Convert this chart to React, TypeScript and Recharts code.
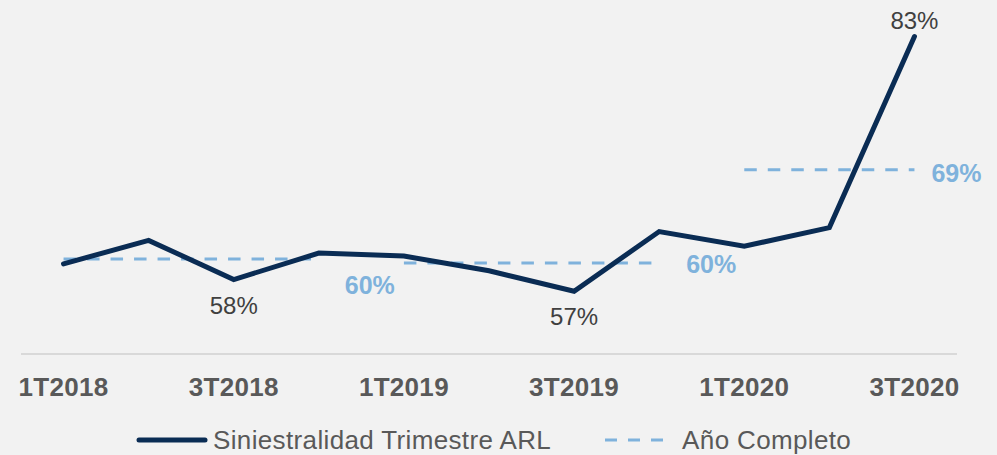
import React from 'react';
import { LineChart, Line, XAxis, YAxis, Legend, LabelList } from 'recharts';

const quarters = ['1T2018', '2T2018', '3T2018', '4T2018', '1T2019', '2T2019', '3T2019', '4T2019', '1T2020', '2T2020', '3T2020'];
const siniestralidad = [59.8, 62.2, 58.2, 60.9, 60.6, 59.1, 57.0, 63.1, 61.6, 63.5, 83.0];
const quarterLabels = ['', '', '58%', '', '', '', '57%', '', '', '', '83%'];
const anio2018 = [60.3, 60.3, 60.3, 60.3, null, null, null, null, null, null, null];
const anio2019 = [null, null, null, null, 59.9, 59.9, 59.9, 59.9, null, null, null];
const anio2020 = [null, null, null, null, null, null, null, null, 69.4, 69.4, 69.4];
const annualLabels = ['60%', '60%', '69%'];
const seriesNames = ['Siniestralidad Trimestre ARL', 'Año Completo'];

const NAVY = '#0a2c54';
const LIGHT = '#7fb2dc';
const FONT = '"Liberation Sans", Arial, sans-serif';
const DASH = '12.5 11';

const data = quarters.map((q, i) => ({
  q,
  s: siniestralidad[i],
  a18: anio2018[i],
  a19: anio2019[i],
  a20: anio2020[i],
}));

const annualSeries = [
  { key: 'a18', values: anio2018, label: annualLabels[0], dx: 51, dy: 35 },
  { key: 'a19', values: anio2019, label: annualLabels[1], dx: 52, dy: 10 },
  { key: 'a20', values: anio2020, label: annualLabels[2], dx: 42, dy: 12 },
];

const lastIndex = (arr: (number | null)[]) => {
  let idx = -1;
  arr.forEach((v, i) => {
    if (v !== null) idx = i;
  });
  return idx;
};

const QuarterLabel = (props: any) => {
  const { x, y, index } = props;
  const text = quarterLabels[index];
  if (!text) return null;
  const prev = index > 0 ? siniestralidad[index - 1] : -Infinity;
  const next = index < siniestralidad.length - 1 ? siniestralidad[index + 1] : -Infinity;
  const v = siniestralidad[index];
  const below = v < prev && (next === -Infinity || v < next);
  return (
    <text
      x={x}
      y={y}
      dy={below ? 34 : -8}
      textAnchor="middle"
      fill="#404040"
      fontSize={24}
      fontFamily={FONT}
    >
      {text}
    </text>
  );
};

const makeAnnualLabel = (s: typeof annualSeries[number]) => (props: any) => {
  const { x, y, index } = props;
  if (index !== lastIndex(s.values)) return null;
  return (
    <text
      x={x}
      y={y}
      dx={s.dx}
      dy={s.dy}
      textAnchor="middle"
      fill={LIGHT}
      fontSize={25}
      fontWeight="bold"
      fontFamily={FONT}
    >
      {s.label}
    </text>
  );
};

const Tick = (props: any) => {
  const { x, y, payload } = props;
  return (
    <text
      x={x}
      y={y}
      dy={42}
      textAnchor="middle"
      fill="#595959"
      fontSize={26}
      fontWeight="bold"
      fontFamily={FONT}
      letterSpacing={0.3}
    >
      {payload.value}
    </text>
  );
};

const LegendContent = () => (
  <div
    style={{
      display: 'flex',
      alignItems: 'center',
      paddingLeft: 136,
      paddingTop: 17,
      height: 28,
      fontFamily: FONT,
      fontSize: 26,
      letterSpacing: 0.36,
      color: '#595959',
      whiteSpace: 'nowrap',
    }}
  >
    <svg width={72} height={8} style={{ marginRight: 5 }}>
      <line x1={3} y1={4} x2={69} y2={4} stroke={NAVY} strokeWidth={5} strokeLinecap="round" />
    </svg>
    <span style={{ marginRight: 54, lineHeight: '28px' }}>{seriesNames[0]}</span>
    <svg width={60} height={8} style={{ marginRight: 17 }}>
      <line x1={0} y1={4} x2={60} y2={4} stroke={LIGHT} strokeWidth={3} strokeDasharray="12 11" />
    </svg>
    <span style={{ lineHeight: '28px' }}>{seriesNames[1]}</span>
  </div>
);

export default function App() {
  return (
    <div
      style={{
        position: 'absolute',
        left: 0,
        top: 0,
        width: 997,
        height: 455,
        background: '#f2f2f2',
      }}
    >
      <LineChart width={997} height={455} data={data} margin={{ top: 17, right: 40, left: 21, bottom: 0 }}>
        <XAxis
          dataKey="q"
          scale="band"
          interval={1}
          height={55}
          tickLine={false}
          tickSize={0}
          tickMargin={0}
          axisLine={{ stroke: '#d9d9d9', strokeWidth: 2 }}
          tick={<Tick />}
        />
        <YAxis hide domain={[50.6, 85]} />
        <Legend verticalAlign="bottom" height={46} wrapperStyle={{ left: 0, width: 997 }} content={<LegendContent />} />
        {annualSeries.map((s) => (
          <Line
            key={s.key}
            dataKey={s.key}
            stroke={LIGHT}
            strokeWidth={3}
            strokeDasharray={DASH}
            dot={false}
            activeDot={false}
            connectNulls={false}
            isAnimationActive={false}
            legendType="none"
          >
            <LabelList dataKey={s.key} content={makeAnnualLabel(s)} />
          </Line>
        ))}
        <Line
          dataKey="s"
          stroke={NAVY}
          strokeWidth={5}
          strokeLinecap="round"
          dot={false}
          activeDot={false}
          isAnimationActive={false}
        >
          <LabelList dataKey="s" content={<QuarterLabel />} />
        </Line>
      </LineChart>
    </div>
  );
}
